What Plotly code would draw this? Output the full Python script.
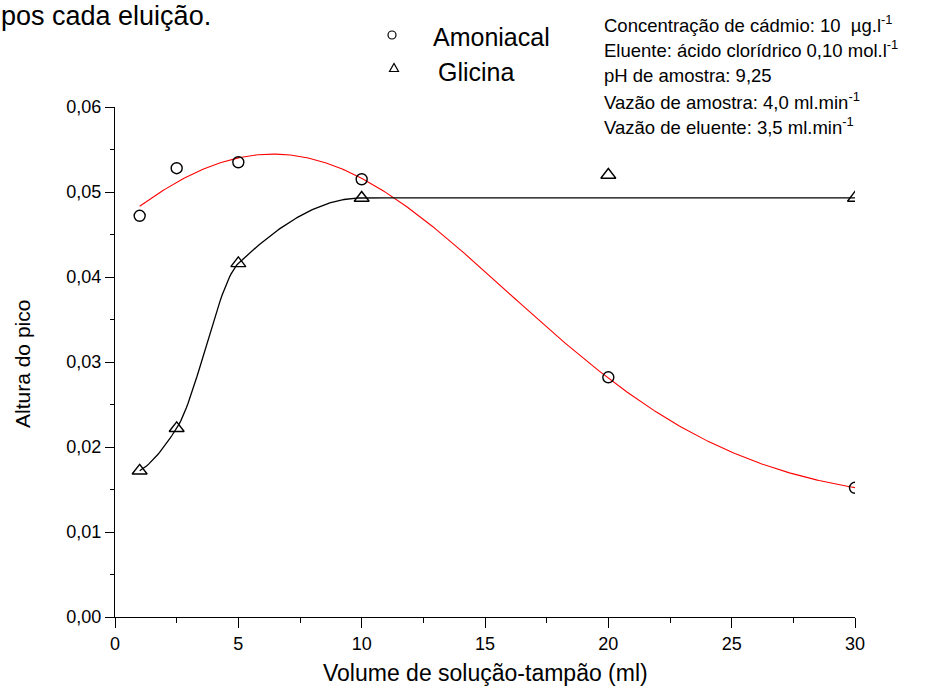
import numpy as np
import plotly.graph_objects as go

# Buffer volume (ml) and peak heights for the two buffers
volume = [1, 2.5, 5, 10, 20, 30]
amoniacal = [0.0472, 0.0528, 0.0535, 0.0515, 0.0282, 0.0152]
glicina = [0.0172, 0.0222, 0.0416, 0.0493, 0.0520, 0.0493]
glicina_on_line = [True, True, True, True, False, True]

x_ticks = [0, 5, 10, 15, 20, 25, 30]
x_tick_labels = ["0", "5", "10", "15", "20", "25", "30"]
y_ticks = [0.00, 0.01, 0.02, 0.03, 0.04, 0.05, 0.06]
y_tick_labels = ["0,00", "0,01", "0,02", "0,03", "0,04", "0,05", "0,06"]

conditions = [
    "Concentração de cádmio: 10  \u00b5g.l<sup>-1</sup>",
    "Eluente: ácido clorídrico 0,10 mol.l<sup>-1</sup>",
    "pH de amostra: 9,25",
    "Vazão de amostra: 4,0 ml.min<sup>-1</sup>",
    "Vazão de eluente: 3,5 ml.min<sup>-1</sup>",
]

FONT = "Liberation Sans, Arial, sans-serif"

x_arr = np.array(volume, dtype=float)
xs = np.linspace(1, 30, 400)

# Gaussian fit (with baseline) for the ammonia buffer:
# grid search on centre and width, linear least squares for baseline/amplitude
ay = np.array(amoniacal)
best = None
for xc in np.linspace(0.0, 15.0, 301):
    for w in np.linspace(2.0, 25.0, 231):
        g = np.exp(-((x_arr - xc) ** 2) / (2 * w * w))
        A = np.vstack([np.ones_like(g), g]).T
        sol, *_ = np.linalg.lstsq(A, ay, rcond=None)
        err = np.sum((A @ sol - ay) ** 2)
        if best is None or err < best[0]:
            best = (err, xc, w, sol)
_, xc, w, (y0, amp) = best
amon_fit = y0 + amp * np.exp(-((xs - xc) ** 2) / (2 * w * w))


# Monotone piecewise cubic (Fritsch-Carlson) line for the glycine buffer
def pchip(x, y, xq):
    x = np.asarray(x, float)
    y = np.asarray(y, float)
    h = np.diff(x)
    delta = np.diff(y) / h
    n = len(x)
    d = np.zeros(n)
    for k in range(1, n - 1):
        if delta[k - 1] * delta[k] > 0:
            w1 = 2 * h[k] + h[k - 1]
            w2 = h[k] + 2 * h[k - 1]
            d[k] = (w1 + w2) / (w1 / delta[k - 1] + w2 / delta[k])

    def end(h0, h1, m0, m1):
        v = ((2 * h0 + h1) * m0 - h0 * m1) / (h0 + h1)
        if np.sign(v) != np.sign(m0):
            return 0.0
        if np.sign(m0) != np.sign(m1) and abs(v) > abs(3 * m0):
            return 3 * m0
        return v

    d[0] = end(h[0], h[1], delta[0], delta[1])
    d[-1] = end(h[-1], h[-2], delta[-1], delta[-2])
    out = np.empty_like(xq)
    for i, xv in enumerate(xq):
        k = min(max(np.searchsorted(x, xv) - 1, 0), n - 2)
        t = (xv - x[k]) / h[k]
        h00 = 2 * t ** 3 - 3 * t ** 2 + 1
        h10 = t ** 3 - 2 * t ** 2 + t
        h01 = -2 * t ** 3 + 3 * t ** 2
        h11 = t ** 3 - t ** 2
        out[i] = h00 * y[k] + h10 * h[k] * d[k] + h01 * y[k + 1] + h11 * h[k] * d[k + 1]
    return out


mask = np.array(glicina_on_line)
glic_line = pchip(x_arr[mask], np.array(glicina)[mask], xs)

fig = go.Figure()
fig.add_trace(go.Scatter(x=xs, y=amon_fit, mode="lines",
                         line=dict(color="#ff0000", width=1.1), showlegend=False))
fig.add_trace(go.Scatter(x=xs, y=glic_line, mode="lines",
                         line=dict(color="#000000", width=1.3), showlegend=False))
fig.add_trace(go.Scatter(x=volume, y=amoniacal, mode="markers", name="Amoniacal",
                         marker=dict(symbol="circle-open", size=11, color="black",
                                     line=dict(width=1.4)), showlegend=False))
fig.add_trace(go.Scatter(x=volume, y=glicina, mode="markers", name="Glicina",
                         marker=dict(symbol="triangle-up-open", size=13, color="black",
                                     line=dict(width=1.4)), showlegend=False))

L, R, T, B = 115, 78, 107, 77
W, H = 933, 694
pw, ph = W - L - R, H - T - B


def px(xp):
    return (xp - L) / pw


def py(yp):
    return (H - B - yp) / ph


annotations = []
# legend entries
annotations.append(dict(x=px(431), y=py(37), xref="paper", yref="paper", text="Amoniacal",
                        showarrow=False, xanchor="left", yanchor="middle",
                        font=dict(family=FONT, size=25, color="black")))
annotations.append(dict(x=px(436), y=py(72), xref="paper", yref="paper", text="Glicina",
                        showarrow=False, xanchor="left", yanchor="middle",
                        font=dict(family=FONT, size=25, color="black")))
# experimental conditions
for i, line in enumerate(conditions):
    annotations.append(dict(x=px(602), y=py(24 + 25.5 * i), xref="paper", yref="paper",
                            text=line, showarrow=False, xanchor="left", yanchor="middle",
                            font=dict(family=FONT, size=18.5, color="black")))
# axis titles
annotations.append(dict(x=px(485), y=py(673), xref="paper", yref="paper",
                        text="Volume de solução-tampão (ml)", showarrow=False,
                        xanchor="center", yanchor="middle",
                        font=dict(family=FONT, size=23, color="black")))
annotations.append(dict(x=px(22), y=py(364), xref="paper", yref="paper",
                        text="Altura do pico", showarrow=False, textangle=-90,
                        xanchor="center", yanchor="middle",
                        font=dict(family=FONT, size=21, color="black")))
# running text above the chart
annotations.append(dict(x=px(0), y=py(0), xref="paper", yref="paper",
                        text="pos cada eluição.", showarrow=False, borderpad=0,
                        xanchor="left", yanchor="top",
                        font=dict(family=FONT, size=27, color="black")))

shapes = [
    dict(type="circle", xref="paper", yref="paper", xsizemode="pixel", ysizemode="pixel",
         xanchor=px(392), yanchor=py(35), x0=-4, x1=4, y0=-4, y1=4,
         line=dict(color="black", width=1.2)),
    dict(type="path", xref="paper", yref="paper", xsizemode="pixel", ysizemode="pixel",
         xanchor=px(394), yanchor=py(68), path="M -4.5 -3.5 L 4.5 -3.5 L 0 4.5 Z",
         line=dict(color="black", width=1.2)),
]

fig.update_layout(
    width=W, height=H,
    margin=dict(l=L, r=R, t=T, b=B),
    paper_bgcolor="white", plot_bgcolor="white",
    font=dict(family=FONT, color="black"),
    annotations=annotations, shapes=shapes,
    xaxis=dict(range=[0, 30], tickvals=x_ticks, ticktext=x_tick_labels,
               ticks="outside", ticklen=10, tickwidth=1.3, tickcolor="black",
               minor=dict(dtick=2.5, tick0=0, ticks="outside", ticklen=5,
                          tickwidth=1.3, tickcolor="black"),
               showline=True, linecolor="black", linewidth=1.3,
               showgrid=False, zeroline=False,
               tickfont=dict(family=FONT, size=18, color="black")),
    yaxis=dict(range=[0, 0.06], tickvals=y_ticks, ticktext=y_tick_labels,
               ticks="outside", ticklen=9, tickwidth=1.3, tickcolor="black",
               minor=dict(dtick=0.005, tick0=0, ticks="outside", ticklen=4,
                          tickwidth=1.3, tickcolor="black"),
               showline=True, linecolor="black", linewidth=1.3,
               showgrid=False, zeroline=False,
               tickfont=dict(family=FONT, size=18, color="black")),
)

fig.write_html("out.html")
